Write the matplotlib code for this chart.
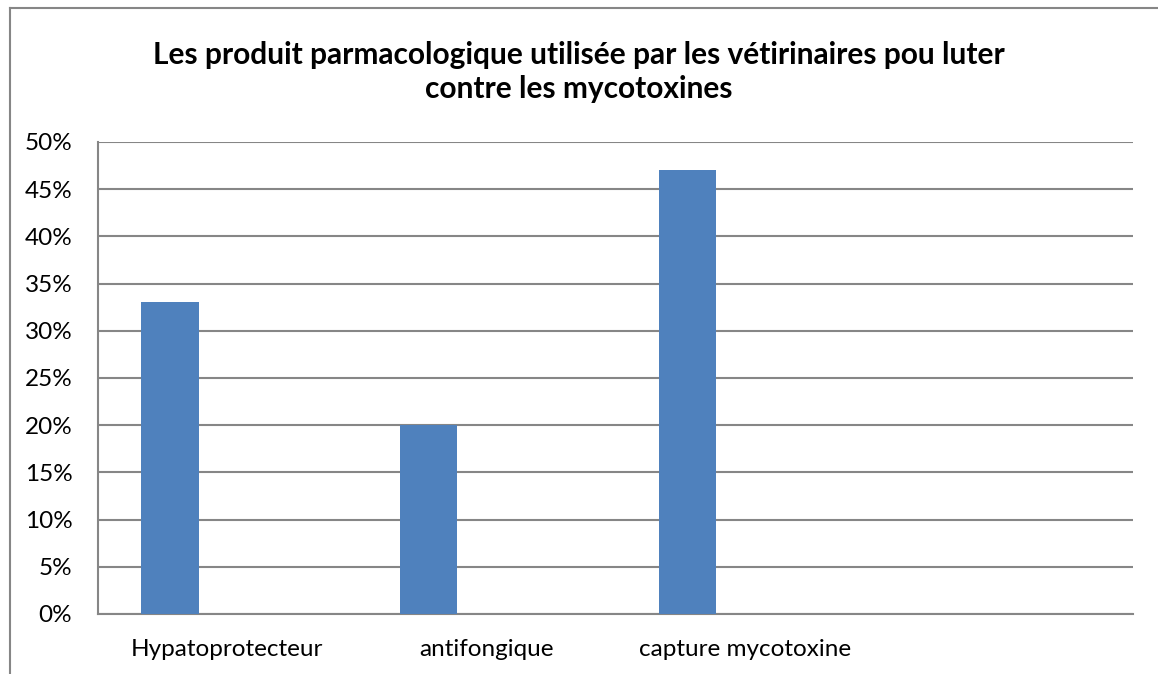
import matplotlib
matplotlib.use('Agg')
import matplotlib.pyplot as plt
from matplotlib.lines import Line2D
from matplotlib.ticker import PercentFormatter

# data (4th category is empty in the original)
categories = ['Hypatoprotecteur', 'antifongique', 'capture mycotoxine', '']
values = [33, 20, 47, 0]
yticks = [0, 5, 10, 15, 20, 25, 30, 35, 40, 45, 50]

title = ('Les produit parmacologique utilisée par les vétirinaires pou luter\n'
         'contre les mycotoxines')

plt.rcParams['font.family'] = ['Lato', 'DejaVu Sans']

fig = plt.figure(figsize=(11.58, 6.74), dpi=100)
ax = fig.add_axes([98 / 1158, 60 / 674, (1133 - 98) / 1158, (614 - 142) / 674])

# excel-style clustered bar: first of three series slots
w = 1 / 4.5
x = [i - w for i in range(len(categories))]
shown = [v if c else 0 for v, c in zip(values, categories)]
ax.bar(x[:3], shown[:3], width=w, color='#4F81BD', zorder=3)

ax.set_xlim(-0.5, len(categories) - 0.5)
ax.set_ylim(0, 50)
ax.set_yticks(yticks)
ax.yaxis.set_major_formatter(PercentFormatter(decimals=0))
ax.set_xticks(range(len(categories)))
ax.set_xticklabels(categories)
ax.tick_params(axis='both', length=0, labelsize=17.5, colors='black')
ax.tick_params(axis='x', pad=18)
ax.tick_params(axis='y', pad=18.5)
for lab in ax.get_yticklabels():
    lab.set_horizontalalignment('right')

ax.grid(axis='y', color='#868686', linewidth=1.5, zorder=0)
for s in ['top', 'right']:
    ax.spines[s].set_visible(False)
for s in ['left', 'bottom']:
    ax.spines[s].set_color('#868686')
    ax.spines[s].set_linewidth(1.5)

fig.text(0.5, 1 - 72 / 674, title, ha='center', va='center',
         fontsize=21.5, fontweight='bold', linespacing=1.3)

# outer chart frame, cut off at the right and bottom like the source
fig.add_artist(Line2D([10 / 1158, 10 / 1158], [0, 1 - 8 / 674],
                      transform=fig.transFigure, color='#868686', lw=1.5))
fig.add_artist(Line2D([10 / 1158, 1], [1 - 8 / 674, 1 - 8 / 674],
                      transform=fig.transFigure, color='#868686', lw=1.5))

fig.savefig('out.png', dpi=100)
